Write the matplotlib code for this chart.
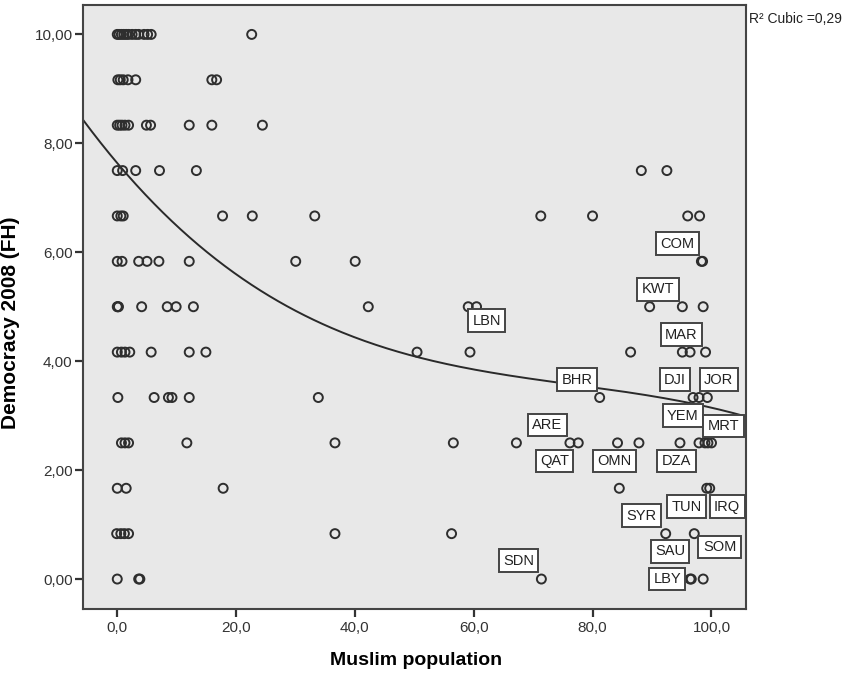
import numpy as np
import matplotlib
matplotlib.use("Agg")
import matplotlib.pyplot as plt

plt.rcParams['font.family'] = ['Liberation Sans', 'DejaVu Sans']

# Freedom House democracy score levels (12-step scale, 0-10)
fh_levels = [10.0, 110 / 12, 100 / 12, 90 / 12, 80 / 12, 70 / 12, 60 / 12,
             50 / 12, 40 / 12, 30 / 12, 20 / 12, 10 / 12, 0.0]

# Muslim population share (%) of the countries at each democracy level
muslim_at_10_00 = [0.1, 0.4, 0.8, 1.2, 1.6, 2.0, 2.6, 3.2, 3.7, 4.6, 5.2, 5.8, 22.7]
muslim_at_9_17 = [0.2, 0.6, 1.1, 1.9, 3.2, 16.0, 16.8]
muslim_at_8_33 = [0.1, 0.5, 0.9, 1.4, 2.0, 5.0, 5.7, 12.2, 16.0, 24.5]
muslim_at_7_50 = [0.1, 1.0, 3.2, 7.2, 13.4, 88.2, 92.5]
muslim_at_6_67 = [0.1, 0.7, 1.1, 17.8, 22.8, 33.3, 71.3, 80.0, 96.0, 98.0]
muslim_at_5_83 = [0.1, 0.9, 3.7, 5.1, 7.1, 12.2, 30.1, 40.1, 98.3, 98.5]
muslim_at_5_00 = [0.1, 0.2, 0.3, 4.2, 8.5, 10.0, 12.9, 42.3, 59.1, 60.5, 89.6, 95.1, 98.6]
muslim_at_4_17 = [0.1, 0.8, 1.4, 2.2, 5.8, 12.2, 15.0, 50.5, 59.4, 86.4, 95.1, 96.4, 99.0]
muslim_at_3_33 = [0.2, 6.3, 8.7, 9.3, 12.2, 33.9, 81.2, 96.9, 97.9, 99.3]
muslim_at_2_50 = [0.8, 1.4, 2.0, 11.8, 36.7, 56.6, 67.2, 76.2, 77.6, 84.2, 87.8, 94.7,
                  97.9, 98.9, 99.4, 100.0]
muslim_at_1_67 = [0.1, 1.6, 17.9, 84.5, 99.2, 99.7]
muslim_at_0_83 = [0.0, 0.7, 1.3, 2.0, 36.7, 56.3, 92.3, 97.1]
muslim_at_0_00 = [0.1, 3.7, 3.9, 71.4, 96.4, 96.6, 98.6]

muslim_by_level = [muslim_at_10_00, muslim_at_9_17, muslim_at_8_33, muslim_at_7_50,
                   muslim_at_6_67, muslim_at_5_83, muslim_at_5_00, muslim_at_4_17,
                   muslim_at_3_33, muslim_at_2_50, muslim_at_1_67, muslim_at_0_83,
                   muslim_at_0_00]

# Cubic fit: democracy = a + b*x + c*x^2 + d*x^3
fit_coeffs = [7.65, -0.12964, 0.001493, -6.47e-6]
fit_r2_text = "R\u00b2 Cubic =0,29"

# Country labels: code, Muslim %, democracy score, label offset (px right, px up)
label_codes = ["COM", "KWT", "LBN", "MAR", "BHR", "DJI", "JOR", "YEM", "ARE", "MRT",
               "QAT", "OMN", "DZA", "TUN", "IRQ", "SYR", "SAU", "SOM", "SDN", "LBY"]
label_muslim = [98.4, 89.6, 60.5, 96.4, 81.2, 96.9, 99.3, 97.9, 76.2, 98.9,
                77.6, 84.2, 94.7, 99.2, 99.7, 92.3, 97.1, 97.1, 71.4, 96.4]
label_dem = [70 / 12, 5.0, 5.0, 50 / 12, 40 / 12, 40 / 12, 40 / 12, 40 / 12, 2.5, 2.5,
             2.5, 2.5, 2.5, 20 / 12, 20 / 12, 10 / 12, 10 / 12, 10 / 12, 0.0, 0.0]
label_dx = [-24.7, 8.4, 10.0, -8.8, -22.6, -18.1, 11.2, -16.2, -22.6, 18.5,
            -23.7, -3.2, -3.5, -20.3, 17.4, -23.9, -24.2, 25.3, -23.0, -22.8]
label_dy = [17.5, 17.3, -14.0, 17.5, 17.8, 17.8, 17.8, -18.3, 17.8, 16.8,
            -18.0, -18.0, -18.0, -18.3, -18.3, 17.8, -17.7, -13.4, 18.2, 0.0]

x_ticks = [0, 20, 40, 60, 80, 100]
x_tick_labels = ["0,0", "20,0", "40,0", "60,0", "80,0", "100,0"]
y_ticks = [0, 2, 4, 6, 8, 10]
y_tick_labels = ["0,00", "2,00", "4,00", "6,00", "8,00", "10,00"]

DPI = 100
fig = plt.figure(figsize=(8.52, 6.74), dpi=DPI)
ax = fig.add_axes([83 / 852, 1 - 609 / 674, (746 - 83) / 852, (609 - 5) / 674])
ax.set_facecolor('#e8e8e8')

xs = np.concatenate([np.asarray(v, float) for v in muslim_by_level])
ys = np.concatenate([np.full(len(v), lvl) for v, lvl in zip(muslim_by_level, fh_levels)])

ax.scatter(xs, ys, s=42, facecolors='none', edgecolors='#2e2e2e', linewidths=1.4,
           zorder=3)

ax.set_xlim(-5.66, 105.8)
ax.set_ylim(-0.55, 10.54)

xfit = np.linspace(-5.66, 105.8, 300)
yfit = np.polyval(fit_coeffs[::-1], xfit)
ax.plot(xfit, yfit, color='#2a2a2a', lw=1.4, zorder=2)

px2pt = 72 / DPI
for code, mx, dv, dx, dy in zip(label_codes, label_muslim, label_dem, label_dx, label_dy):
    arrow = None
    if code == "MRT":
        arrow = dict(arrowstyle='-', color='#333333', lw=1.2, shrinkA=0, shrinkB=4)
    ax.annotate(code, xy=(mx, dv), xytext=(dx * px2pt, dy * px2pt),
                textcoords='offset points', ha='center', va='center',
                fontsize=10.5, color='#222222', zorder=5,
                bbox=dict(boxstyle='square,pad=0.3', fc='white', ec='#444444', lw=1.4),
                arrowprops=arrow)

ax.set_xticks(x_ticks)
ax.set_xticklabels(x_tick_labels)
ax.set_yticks(y_ticks)
ax.set_yticklabels(y_tick_labels)
ax.tick_params(axis='both', direction='out', length=6, width=1.6, color='#333333',
               labelsize=11, labelcolor='#333333')
ax.tick_params(axis='x', pad=3)
ax.tick_params(axis='y', pad=1.5)

for sp in ax.spines.values():
    sp.set_color('#444444')
    sp.set_linewidth(1.5)

ax.set_xlabel("Muslim population", fontsize=14, fontweight='bold', va='center')
ax.xaxis.set_label_coords(0.503, -0.086)
ax.set_ylabel("Democracy 2008 (FH)", fontsize=15, fontweight='bold', va='center')
ax.yaxis.set_label_coords(-0.110, 0.474)

fig.text(749 / 852, 1 - 19 / 674, fit_r2_text, ha='left', va='center', fontsize=10,
         color='#222222')

fig.savefig("out.png", dpi=DPI)
